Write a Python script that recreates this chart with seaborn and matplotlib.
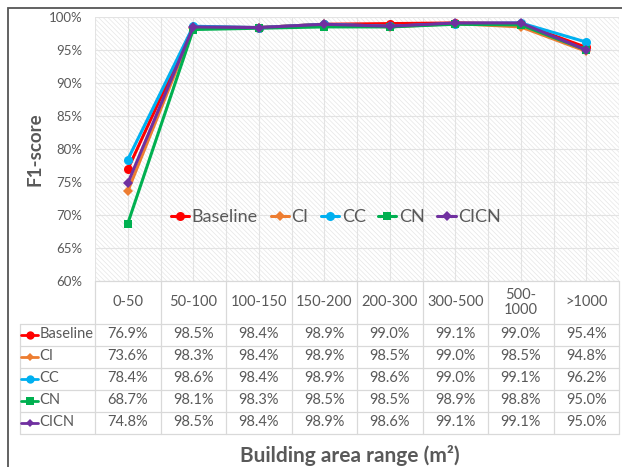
import numpy as np
import pandas as pd
import matplotlib
matplotlib.use("Agg")
import matplotlib.pyplot as plt
import matplotlib.transforms as mtransforms
from matplotlib.lines import Line2D
from matplotlib.patches import Rectangle
import seaborn as sns

# ---------------- data ----------------
categories = ["0-50", "50-100", "100-150", "150-200", "200-300", "300-500", "500-\n1000", ">1000"]
series_names = ["Baseline", "CI", "CC", "CN", "CICN"]
baseline = [76.9, 98.5, 98.4, 98.9, 99.0, 99.1, 99.0, 95.4]
ci = [73.6, 98.3, 98.4, 98.9, 98.5, 99.0, 98.5, 94.8]
cc = [78.4, 98.6, 98.4, 98.9, 98.6, 99.0, 99.1, 96.2]
cn = [68.7, 98.1, 98.3, 98.5, 98.5, 98.9, 98.8, 95.0]
cicn = [74.8, 98.5, 98.4, 98.9, 98.6, 99.1, 99.1, 95.0]
y_ticks = [60, 65, 70, 75, 80, 85, 90, 95, 100]
y_label = "F1-score"
x_title = "Building area range (m²)"

series_values = [baseline, ci, cc, cn, cicn]
colors = ["#FF0000", "#ED7D31", "#00B0F0", "#00B050", "#7030A0"]
markers = ["o", "D", "o", "s", "D"]
msizes = [6.5, 5.0, 6.5, 6.0, 5.0]

df = pd.concat(
    [pd.DataFrame({"category": categories, "value": v, "series": n})
     for n, v in zip(series_names, series_values)],
    ignore_index=True,
)

sns.set_style("white")
plt.rcParams["font.family"] = ["Lato", "DejaVu Sans"]
plt.rcParams["hatch.linewidth"] = 0.5

W, H = 622, 467
fig = plt.figure(figsize=(W / 100, H / 100), dpi=100)


def fx(px):
    return px / W


def fy(py):
    return 1 - py / H


TXT = "#595959"
GRID = "#E3E3E3"
TBL = "#D9D9D9"

ax = fig.add_axes([fx(95), fy(281), fx(619) - fx(95), fy(17) - fy(281)])
ax.set_facecolor("white")
ax.add_patch(Rectangle((0, 0), 1, 1, transform=ax.transAxes, facecolor="white",
                       edgecolor="#E6E6E6", hatch="\\\\\\\\\\\\\\", lw=0, zorder=0))

for name, col, mk, ms in zip(series_names, colors, markers, msizes):
    sns.lineplot(data=df[df["series"] == name], x="category", y="value", ax=ax,
                 color=col, marker=mk, markersize=ms, markeredgewidth=0,
                 linewidth=2.2, sort=False, zorder=3, legend=False)

ax.set_xlim(-0.5, len(categories) - 0.5)
ax.set_ylim(y_ticks[0], y_ticks[-1])
ax.set_yticks(y_ticks)
ax.set_yticklabels([f"{t}%" for t in y_ticks])
ax.set_xticks(range(len(categories)))
ax.set_xticklabels([])
ax.set_xticks(np.arange(-0.5, len(categories), 1), minor=True)
ax.tick_params(axis="both", which="both", length=0)
ax.tick_params(axis="y", labelsize=9.5, labelcolor=TXT, pad=9)
ax.grid(True, axis="y", which="major", color=GRID, lw=0.8, zorder=1)
ax.grid(True, axis="x", which="both", color=GRID, lw=0.8, zorder=1)
ax.set_axisbelow(True)
ax.set_xlabel("")
ax.set_ylabel("")
for s in ax.spines.values():
    s.set_visible(False)

# legend inside plot
handles = [Line2D([0], [0], color=c, marker=m, markersize=ms, markeredgewidth=0, lw=2.2)
           for c, m, ms in zip(colors, markers, msizes)]
ax.legend(handles, series_names, loc="center", bbox_to_anchor=(fx(336), fy(217)),
          bbox_transform=fig.transFigure, ncol=5, frameon=False, fontsize=13,
          handlelength=1.0, handletextpad=0.15, columnspacing=0.7, labelcolor=TXT)

# ---------------- data table ----------------
trans = mtransforms.blended_transform_factory(ax.transData, fig.transFigure)
n = len(categories)
head_top, head_bot = 281, 323.5
row_h = 22
row_edges = [head_bot + row_h * i for i in range(len(series_names) + 1)]

# horizontal lines
fig.add_artist(Line2D([fx(95), fx(619)], [fy(head_top)] * 2, transform=fig.transFigure,
                      color=TBL, lw=0.9))
for yy in row_edges:
    fig.add_artist(Line2D([fx(20), fx(619)], [fy(yy)] * 2, transform=fig.transFigure,
                          color=TBL, lw=0.9))
# vertical lines
for b in np.arange(-0.5, n, 1):
    fig.add_artist(Line2D([b, b], [fy(head_top), fy(row_edges[-1])], transform=trans,
                          color=TBL, lw=0.9))
fig.add_artist(Line2D([fx(20), fx(20)], [fy(row_edges[0]), fy(row_edges[-1])],
                      transform=fig.transFigure, color=TBL, lw=0.9))

# header
for i, c in enumerate(categories):
    fig.text(i, fy((head_top + head_bot) / 2), c, transform=trans, ha="center", va="center",
             fontsize=10.5, color=TXT, linespacing=1.1)

# rows
for r, (name, vals, col, mk, ms) in enumerate(zip(series_names, series_values, colors, markers, msizes)):
    yc = fy(row_edges[r] + row_h / 2)
    fig.add_artist(Line2D([fx(21), fx(38)], [yc, yc], transform=fig.transFigure, color=col, lw=2.0))
    fig.add_artist(Line2D([fx(29.5)], [yc], transform=fig.transFigure, color=col, marker=mk,
                          markersize=ms - 0.5, markeredgewidth=0))
    fig.text(fx(39.5), yc, name, ha="left", va="center", fontsize=10.5, color=TXT)
    for i, v in enumerate(vals):
        fig.text(i, yc, f"{v:.1f}%", transform=trans, ha="center", va="center",
                 fontsize=10.5, color=TXT)

# axis titles
fig.text(fx(35), fy(149), y_label, rotation=90, ha="center", va="center",
         fontsize=13.5, fontweight="bold", color=TXT)
fig.text(fx(350), fy(455), x_title, ha="center", va="center",
         fontsize=15, fontweight="bold", color=TXT)

# outer frame
fig.add_artist(Rectangle((fx(8), -0.1), 1.0, fy(8) + 0.1, transform=fig.transFigure,
                         fill=False, edgecolor="#555555", lw=1.3))

fig.savefig("out.png", dpi=100)
